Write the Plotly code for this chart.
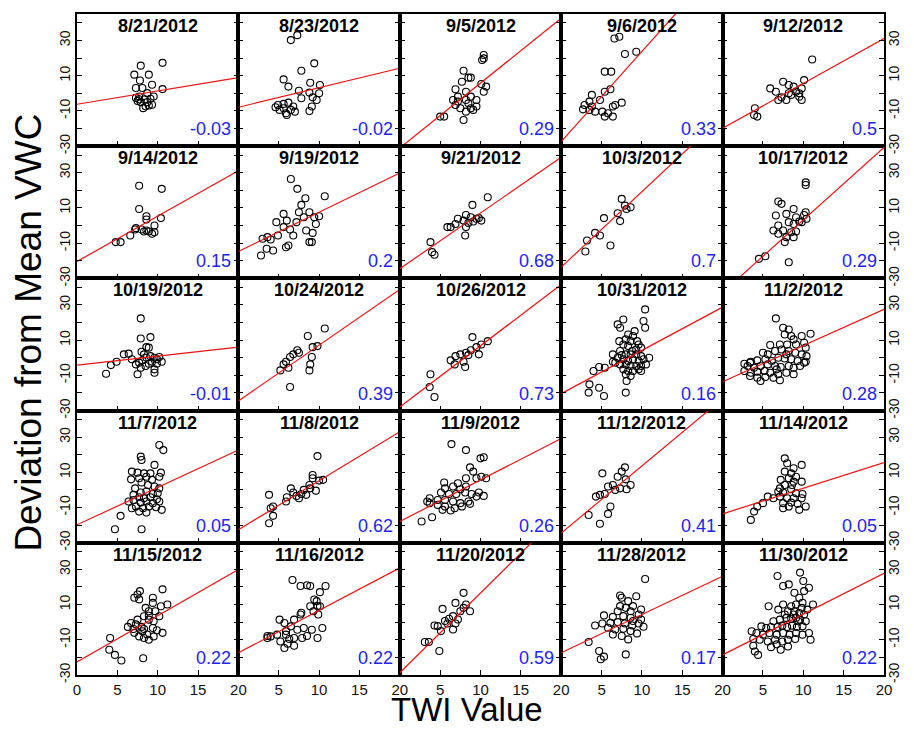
import plotly.graph_objects as go

dates = ['8/21/2012', '8/23/2012', '9/5/2012', '9/6/2012', '9/12/2012',
         '9/14/2012', '9/19/2012', '9/21/2012', '10/3/2012', '10/17/2012',
         '10/19/2012', '10/24/2012', '10/26/2012', '10/31/2012', '11/2/2012',
         '11/7/2012', '11/8/2012', '11/9/2012', '11/12/2012', '11/14/2012',
         '11/15/2012', '11/16/2012', '11/20/2012', '11/28/2012', '11/30/2012']
r_values = ['-0.03', '-0.02', '0.29', '0.33', '0.5',
            '0.15', '0.2', '0.68', '0.7', '0.29',
            '-0.01', '0.39', '0.73', '0.16', '0.28',
            '0.05', '0.62', '0.26', '0.41', '0.05',
            '0.22', '0.22', '0.59', '0.17', '0.22']
# regression line value at TWI = 0 and TWI = 20
fit_at_0 = [-6.2, -7.9, -31.0, -27.4, -19.8,
            -20.4, -14.7, -24.5, -23.6, -38.0,
            -4.2, -24.5, -27.9, -20.4, -13.6,
            -19.8, -22.6, -17.9, -24.5, -13.6,
            -22.6, -17.4, -28.7, -17.4, -18.6]
fit_at_20 = [8.9, 14.2, 42.6, 74.9, 31.1,
             31.1, 29.8, 38.7, 62.0, 44.3,
             6.0, 38.7, 41.5, 28.7, 27.4,
             22.6, 33.0, 29.2, 51.7, 15.5,
             29.8, 30.8, 61.7, 26.0, 27.7]
x_ticks = [0, 5, 10, 15, 20]
y_ticks = [-30, -20, -10, 0, 10, 20, 30, 40]
y_tick_text = ['-30', '', '-10', '', '10', '', '30', '']

pts_0821 = [(10.6,17.3),(7.9,15.7),(7.1,10.6),(8.9,10.6),(7.8,7.3),(9.3,4.9),(10.6,2.4),(7.3,3.0),(8.1,3.0),(8.7,0.1),(7.7,-1.8),(7.3,-2.6),(8.4,-3.4),(9.1,-3.1),(9.5,-1.8),(7.5,-4.3),(7.9,-5.0),(8.7,-5.0),(9.3,-6.5),(8.5,-7.3),(8.2,-8.4),(8.9,-6.9),(7.7,-3.4)]
pts_0823 = [(6.5,30.2),(7.3,33.0),(9.4,17.0),(7.8,12.8),(5.6,7.9),(6.2,3.8),(8.9,6.0),(10.1,4.7),(7.5,1.5),(8.8,0.4),(10.0,0),(9.2,-2.3),(7.8,-2.8),(4.9,-6.6),(5.6,-6.0),(6.2,-5.3),(6.5,-9.4),(7.0,-10.4),(5.9,-11.3),(5.1,-9.4),(9.1,-7.5),(8.8,-10.0),(4.6,-7.9),(6.8,-7.5),(5.6,-8.5),(6.0,-12.3),(9.7,-3.8)]
pts_0905 = [(10.4,21.7),(10.4,19.8),(10.2,18.9),(7.9,12.8),(8.8,8.9),(8.5,8.9),(7.7,6.6),(6.9,2.3),(10.1,5.3),(8.2,0.9),(10.4,0.9),(7.2,-1.9),(8.8,-1.9),(8.2,-3.8),(7.2,-4.7),(9.5,-3.8),(8.5,-5.7),(6.9,-6.6),(7.5,-8.5),(8.8,-8.5),(9.5,-7.5),(8.2,-10.4),(7.9,-15.1),(5.0,-13.2),(5.5,-13.2),(10.7,3.8),(6.6,-3.8),(9.1,-9.4)]
pts_0906 = [(6.6,31.1),(7.2,32.1),(7.9,22.3),(9.3,23.6),(5.4,12.3),(6.2,12.3),(6.1,2.3),(5.4,0.9),(3.8,-0.9),(3.5,-4.7),(2.9,-6.6),(2.7,-9.1),(3.8,-7.5),(4.2,-10.4),(5.1,-10.4),(5.8,-11.3),(6.4,-13.2),(5.4,-13.2),(6.7,-6.6),(7.5,-5.3),(4.8,-3.8),(6.4,-7.5),(3.5,-9.4)]
pts_0912 = [(11.1,19.2),(5.9,2.8),(6.6,0.9),(7.5,6.6),(8.2,4.7),(8.8,3.8),(9.8,2.8),(10.1,7.5),(9.1,0.9),(8.2,0),(9.5,-1.9),(6.9,-3.8),(7.9,-3.8),(9.8,-3.8),(8.5,-0.9),(4.0,-8.5),(4.3,-13.2),(3.9,-12.3),(7.3,-2.3),(9.5,0)]
pts_0914 = [(7.7,22.6),(10.5,20.8),(7.7,9.4),(8.6,5.3),(8.6,3.4),(10.4,4.2),(9.6,0),(7.3,-1.5),(8.0,-2.3),(8.6,-2.8),(8.9,-3.4),(9.3,-4.7),(9.6,-3.8),(8.3,-3.4),(6.6,-5.7),(4.8,-9.4),(5.4,-9.4),(7.2,-2.3)]
pts_0919 = [(6.5,26.4),(7.3,20.8),(8.3,15.5),(10.7,16.6),(7.8,11.7),(5.6,6.6),(7.5,7.5),(8.8,7.5),(10.0,5.3),(4.7,1.9),(6.0,2.8),(7.2,1.9),(5.6,-0.9),(6.4,-2.3),(8.1,4.7),(9.4,4.7),(9.6,0.9),(9.2,-4.2),(6.8,-5.7),(3.6,-6.6),(4.0,-7.9),(3.0,-7.5),(3.5,-13.2),(4.3,-14.2),(5.9,-12.3),(6.2,-11.3),(8.8,-9.4),(9.1,-9.4),(2.8,-17.0),(4.9,-5.7),(8.4,-2.8)]
pts_0921 = [(10.9,16.0),(9.0,11.7),(8.2,6.0),(7.2,3.8),(8.8,4.7),(9.5,3.8),(10.1,2.8),(7.9,2.8),(6.9,0.9),(6.3,-0.9),(5.9,-0.9),(8.5,1.5),(9.1,2.3),(8.2,-0.9),(8.1,-5.7),(3.8,-9.4),(4.0,-15.1),(4.3,-16.6),(9.8,4.2)]
pts_1003 = [(7.5,15.1),(7.9,11.3),(8.6,10.4),(7.0,7.0),(7.3,2.5),(5.3,4.2),(4.2,-4.2),(4.8,-5.7),(3.2,-8.5),(3.0,-14.7),(6.1,-11.3),(8.1,9.4)]
pts_1017 = [(10.3,24.5),(10.3,23.0),(6.9,13.6),(7.3,12.3),(8.8,9.4),(7.9,6.6),(9.1,4.7),(10.3,7.5),(10.1,6.0),(9.8,1.9),(6.9,0),(8.2,1.9),(8.8,0.9),(9.5,2.3),(7.5,-2.8),(8.5,-3.8),(6.9,-4.7),(7.9,-6.6),(8.8,-6.6),(7.7,-9.4),(6.3,-2.8),(4.5,-18.9),(5.3,-17.4),(8.2,-20.8),(10.4,3.8),(6.6,5.7),(9.1,-3.4)]
pts_1019 = [(7.9,22.3),(7.9,10.9),(9.1,11.7),(8.6,6.0),(8.9,5.7),(8.0,3.4),(8.3,1.9),(9.1,0.9),(9.6,0),(8.6,0),(10.2,0.4),(10.5,-2.3),(9.9,-3.4),(9.3,-2.3),(7.7,-2.8),(7.3,-3.8),(7.9,-5.7),(8.5,-4.7),(9.6,-6.6),(9.6,-8.5),(7.5,-9.4),(3.6,-9.1),(4.2,-4.2),(4.9,-2.3),(5.8,1.9),(6.4,2.3),(6.8,-0.9),(9.9,-0.9),(8.9,-3.4),(8.1,-1.5)]
pts_1024 = [(10.7,16.6),(8.6,12.3),(9.8,6.6),(9.2,6.0),(7.3,4.2),(6.8,1.9),(6.4,0.4),(5.9,-2.3),(5.6,-3.8),(5.2,-7.2),(6.2,-5.7),(9.1,0.4),(8.9,-3.8),(8.8,-7.2),(6.4,-16.6),(7.5,2.8)]
pts_1026 = [(10.9,9.4),(9.0,11.7),(10.1,7.5),(9.5,6.0),(9.8,1.9),(8.8,4.2),(8.2,2.8),(7.5,1.9),(6.9,0.9),(6.3,-1.5),(6.8,-3.8),(7.9,-2.3),(8.1,-5.3),(3.8,-9.4),(3.7,-16.6),(4.3,-22.3),(8.5,1.5)]
pts_1031 = [(10.4,27.4),(10.2,20.8),(10.4,17.0),(7.7,21.7),(7.0,18.9),(7.3,17.0),(8.3,13.2),(8.9,12.3),(8.0,10.4),(8.6,9.4),(9.6,7.5),(7.7,7.5),(8.3,6.6),(9.3,4.7),(9.9,5.7),(7.3,3.8),(8.0,1.9),(8.6,1.9),(6.4,1.9),(9.3,1.9),(9.9,0.9),(7.0,0),(7.7,-0.9),(8.3,-1.9),(8.9,-0.9),(9.6,-1.9),(10.2,-0.9),(6.7,-2.8),(7.3,-3.8),(8.0,-3.8),(8.6,-4.7),(9.3,-4.7),(9.9,-4.7),(10.5,-3.8),(7.7,-6.6),(8.3,-7.5),(8.9,-7.5),(9.6,-6.6),(8.0,-9.4),(8.6,-10.4),(8.1,-13.2),(4.7,-5.3),(5.4,-5.7),(4.0,-7.5),(3.5,-15.1),(4.7,-17.0),(5.3,-21.7),(3.4,-19.8),(8.0,-19.8),(9.9,-7.5),(7.2,9.4),(9.1,15.1),(6.4,-2.3),(10.9,0),(7.5,1.5),(8.8,3.8),(9.4,9.4)]
pts_1102 = [(6.6,22.3),(7.5,17.0),(8.2,16.0),(7.7,13.2),(8.5,12.3),(9.8,12.3),(10.9,13.6),(8.8,10.4),(7.1,7.5),(8.0,7.5),(9.1,7.5),(10.1,8.5),(10.3,5.7),(5.0,2.8),(5.6,1.9),(6.5,3.8),(7.3,4.7),(8.2,3.8),(9.0,2.8),(9.8,1.9),(10.4,0.9),(3.5,-2.3),(4.3,-1.5),(5.3,-0.9),(6.1,-1.9),(6.9,0),(7.7,-0.4),(8.5,-0.9),(9.3,-1.9),(10.1,-2.8),(3.1,-4.7),(3.9,-5.7),(4.7,-4.7),(5.6,-3.8),(6.5,-4.7),(7.2,-5.3),(8.2,-4.7),(8.8,-5.7),(9.6,-4.7),(2.7,-7.5),(3.5,-8.5),(4.3,-7.9),(5.2,-7.5),(5.9,-8.5),(6.9,-9.4),(7.9,-8.5),(8.8,-9.4),(3.4,-10.4),(4.3,-11.3),(5.3,-10.9),(6.3,-11.3),(7.1,-12.8),(4.7,-13.2),(3.4,-2.8),(10.3,-2.3),(7.9,1.9),(5.9,7.2),(6.7,-6.6),(2.7,-3.4)]
pts_1107 = [(10.2,25.5),(10.7,22.6),(7.9,18.9),(8.0,17.0),(9.6,14.2),(6.8,10.4),(7.5,9.8),(8.3,9.4),(9.1,9.4),(10.4,9.8),(6.7,6.0),(7.7,6.6),(8.6,7.5),(9.3,5.7),(10.2,7.5),(8.0,4.2),(8.8,2.8),(9.6,1.9),(10.2,0.9),(7.2,0.9),(7.9,-1.5),(8.6,-0.9),(9.4,-2.3),(10.0,-1.9),(7.0,-2.8),(7.7,-4.2),(8.3,-4.7),(9.1,-4.2),(9.9,-5.3),(7.0,-5.7),(7.9,-7.2),(8.6,-6.6),(9.4,-7.5),(10.2,-6.6),(7.3,-9.4),(8.2,-10.4),(8.9,-9.4),(9.8,-9.8),(10.5,-11.3),(7.7,-12.3),(8.6,-12.8),(5.4,-14.7),(4.7,-22.3),(8.0,-22.3),(6.4,-6.6),(6.8,-10.4)]
pts_1108 = [(9.8,19.2),(9.2,8.5),(9.2,6.6),(10.5,5.7),(10.0,5.3),(8.8,2.8),(8.1,0),(9.6,-0.4),(8.4,-2.8),(7.8,-2.3),(7.2,-3.4),(6.8,-1.5),(6.5,0.9),(7.5,-4.7),(5.9,-6.6),(3.8,-2.8),(4.3,-9.4),(4.0,-10.4),(4.3,-14.7),(3.8,-18.9),(6.0,-4.2),(8.9,0.9)]
pts_1109 = [(6.4,26.0),(8.2,22.6),(10.4,18.5),(10.0,17.9),(8.7,12.8),(9.5,6.6),(10.1,7.5),(9.1,10.4),(5.5,4.2),(7.2,3.8),(8.2,6.6),(5.6,0.9),(6.6,1.9),(7.5,0.4),(5.1,-1.5),(6.1,-2.3),(7.0,-2.3),(8.1,-1.5),(8.9,-2.3),(9.8,-1.5),(10.4,-3.4),(3.7,-4.7),(4.7,-5.7),(5.6,-5.7),(6.6,-6.6),(7.5,-7.5),(8.5,-6.6),(9.5,-3.8),(3.7,-7.5),(4.7,-8.5),(5.6,-9.4),(6.8,-10.4),(7.7,-9.4),(8.7,-7.9),(5.3,-11.3),(6.3,-11.7),(2.7,-17.9),(4.0,-15.5),(3.4,-6.6),(10.7,6.6),(8.2,1.9)]
pts_1112 = [(7.9,12.8),(7.5,10.4),(5.1,9.4),(7.0,7.5),(8.6,2.8),(8.0,6.0),(6.4,2.8),(5.8,1.9),(7.3,0.9),(6.7,0),(8.1,0.4),(5.4,-2.3),(4.3,-3.8),(4.8,-2.8),(6.1,-9.4),(5.8,-13.6),(3.4,-14.2),(4.8,-19.2)]
pts_1114 = [(7.7,17.9),(8.0,15.1),(8.8,12.3),(9.8,14.2),(7.7,10.4),(8.5,9.4),(9.1,7.5),(8.2,6.6),(7.2,5.7),(8.8,4.7),(7.7,2.8),(9.8,4.7),(7.1,0.9),(8.5,0.4),(7.5,-1.5),(9.1,-1.9),(9.9,-2.3),(7.1,-3.8),(8.0,-4.7),(8.8,-4.7),(9.8,-4.7),(7.5,-7.5),(8.5,-7.2),(9.3,-7.9),(10.3,-9.4),(8.2,-9.4),(7.5,-10.4),(5.6,-3.8),(6.3,-4.7),(5.0,-7.5),(4.3,-9.4),(3.9,-12.3),(3.5,-17.0),(9.5,-11.3),(6.9,-0.9),(8.6,2.8)]
pts_1115 = [(10.6,18.6),(7.8,17.6),(7.5,15.7),(7.1,13.8),(7.7,12.9),(9.4,13.8),(9.4,10.9),(11.2,10.0),(10.4,9.0),(8.5,8.1),(8.9,6.2),(9.7,6.2),(10.2,3.3),(8.3,3.3),(8.9,1.4),(9.5,0.5),(6.7,-0.5),(6.3,-2.7),(7.3,-1.3),(8.0,-2.7),(8.3,-3.9),(9.4,-3.3),(9.9,-4.6),(10.6,-6.1),(7.1,-6.1),(7.7,-8.1),(8.3,-9.0),(8.9,-10.0),(9.5,-8.1),(8.7,-7.0),(8.1,-5.2),(4.1,-9.0),(4.0,-15.7),(4.7,-18.6),(5.5,-21.8),(8.2,-20.5),(7.5,1.4),(8.9,3.6),(7.0,-3.9)]
pts_1116 = [(6.7,23.9),(7.7,20.5),(8.5,20.9),(8.9,20.5),(10.8,20.5),(10.1,17.0),(9.7,11.9),(8.9,9.0),(10.1,9.0),(9.3,6.2),(9.9,4.3),(7.7,4.3),(6.9,1.4),(5.1,1.4),(5.7,-0.5),(6.5,-2.4),(7.3,-4.3),(8.1,-3.3),(9.1,-4.3),(10.4,-3.3),(4.8,-7.1),(4.0,-8.1),(3.6,-9.0),(5.9,-7.1),(6.9,-9.0),(7.9,-9.0),(5.2,-11.0),(6.1,-12.3),(6.9,-13.4),(5.7,-14.7),(6.3,-9.6),(8.5,-7.9),(9.8,-9.0),(9.4,12.8),(9.8,9.1),(7.8,5.3),(5.9,-5.1),(3.6,-7.9)]
pts_1120 = [(7.9,16.6),(6.9,10.9),(8.2,10.0),(8.7,6.2),(7.5,6.2),(5.3,7.5),(6.6,3.4),(5.6,0.6),(4.3,-1.9),(4.7,-2.3),(5.9,-0.8),(6.9,-0.8),(7.2,1.5),(5.1,-5.1),(6.6,-4.2),(3.1,-11.3),(3.6,-11.3),(4.9,-16.4),(7.9,8.1),(6.1,1.9)]
pts_1128 = [(10.4,24.5),(9.3,14.7),(7.3,15.1),(7.5,13.8),(8.3,11.9),(8.9,9.1),(8.0,8.1),(9.9,7.2),(7.0,6.2),(8.6,6.2),(9.6,4.3),(5.3,3.8),(6.4,3.0),(7.7,3.4),(8.6,2.5),(9.9,1.5),(4.2,-1.9),(5.1,-0.8),(6.1,-0.4),(7.0,0),(7.9,-0.8),(8.8,-1.9),(9.6,-0.8),(5.8,-3.2),(6.7,-4.2),(7.7,-3.8),(8.6,-5.1),(9.4,-6.4),(6.4,-7.0),(7.5,-7.9),(8.3,-9.8),(3.4,-11.3),(4.7,-16.4),(5.3,-19.6),(4.9,-21.1),(8.0,-18.3),(10.2,-2.6),(7.3,9.1),(8.9,0.6)]
pts_1130 = [(6.8,26.2),(9.6,28.1),(7.5,20.5),(8.2,21.4),(10.0,23.3),(10.7,19.5),(10.1,17.6),(8.9,16.7),(9.5,13.8),(5.7,9.0),(7.5,10.0),(8.5,9.0),(9.1,10.0),(9.9,11.0),(11.2,10.0),(8.1,6.2),(8.9,6.2),(9.5,5.2),(10.1,4.3),(6.3,0.5),(7.1,1.4),(7.9,2.4),(8.5,1.9),(9.1,2.4),(9.6,1.4),(10.3,0.5),(4.8,-2.4),(5.4,-3.3),(6.0,-2.8),(6.8,-2.8),(7.4,-2.0),(8.0,-2.8),(8.6,-2.0),(9.2,-2.8),(9.9,-2.4),(3.6,-5.2),(4.2,-6.2),(5.0,-7.1),(5.8,-6.2),(6.7,-7.1),(7.5,-6.2),(8.3,-7.1),(9.1,-6.2),(9.9,-7.1),(10.7,-6.2),(3.8,-9.6),(4.6,-10.0),(5.6,-11.0),(6.5,-10.0),(7.4,-11.0),(8.1,-10.0),(9.0,-9.6),(10.9,-10.0),(3.8,-13.4),(6.0,-14.2),(7.2,-15.7),(8.1,-13.8),(4.4,-18.6),(4.0,-16.7),(6.7,-12.6),(9.4,0.5),(8.8,4.3),(7.7,4.3),(6.9,7.1),(10.5,7.1),(9.8,8.1)]

panels = [pts_0821, pts_0823, pts_0905, pts_0906, pts_0912,
          pts_0914, pts_0919, pts_0921, pts_1003, pts_1017,
          pts_1019, pts_1024, pts_1026, pts_1031, pts_1102,
          pts_1107, pts_1108, pts_1109, pts_1112, pts_1114,
          pts_1115, pts_1116, pts_1120, pts_1128, pts_1130]

W, H = 914, 729
L, R, T, B = 77, 20, 14, 54
FONT = 'Liberation Sans'

fig = go.Figure()
layout = {}
annotations = []
for k in range(25):
    r, c = divmod(k, 5)
    n = k + 1
    xa = 'x' if n == 1 else f'x{n}'
    ya = 'y' if n == 1 else f'y{n}'
    xs = [p[0] for p in panels[k]]
    ys = [p[1] for p in panels[k]]
    fig.add_trace(go.Scatter(x=xs, y=ys, mode='markers', xaxis=xa, yaxis=ya,
                             marker=dict(symbol='circle-open', size=7, color='black',
                                         line=dict(width=1.1, color='black')),
                             showlegend=False, cliponaxis=True, hoverinfo='skip'))
    fig.add_trace(go.Scatter(x=[x_ticks[0], x_ticks[-1]], y=[fit_at_0[k], fit_at_20[k]],
                             mode='lines', xaxis=xa, yaxis=ya,
                             line=dict(color='#ee1111', width=1.2),
                             showlegend=False, hoverinfo='skip'))
    xkey = 'xaxis' if n == 1 else f'xaxis{n}'
    ykey = 'yaxis' if n == 1 else f'yaxis{n}'
    layout[xkey] = dict(domain=[c / 5, (c + 1) / 5], anchor=ya, range=[0, 20],
                        tickvals=x_ticks if c == 0 else x_ticks[1:],
                        ticktext=[str(v) for v in (x_ticks if c == 0 else x_ticks[1:])],
                        showticklabels=(r == 4), ticks='inside', ticklen=5,
                        tickcolor='black', showline=True, mirror=True,
                        linecolor='black', linewidth=1.5, showgrid=False,
                        zeroline=False, fixedrange=True,
                        tickfont=dict(family=FONT, size=15, color='#111'))
    layout[ykey] = dict(domain=[1 - (r + 1) / 5, 1 - r / 5], anchor=xa, range=[-30, 45],
                        tickvals=y_ticks, ticktext=y_tick_text,
                        showticklabels=(c == 0), ticks='inside', ticklen=5,
                        tickcolor='black', showline=True, mirror='ticks',
                        linecolor='black', linewidth=1.5, showgrid=False,
                        zeroline=False, tickangle=-90, fixedrange=True,
                        tickfont=dict(family=FONT, size=14, color='#111'))
    annotations.append(dict(text=f'<b>{dates[k]}</b>', xref=f'{xa} domain', yref=f'{ya} domain',
                            x=0.5, y=1, xanchor='center', yanchor='middle', yshift=-12,
                            showarrow=False, font=dict(family=FONT, size=18, color='black')))
    annotations.append(dict(text=r_values[k], xref=f'{xa} domain', yref=f'{ya} domain',
                            x=1, y=0, xanchor='right', yanchor='middle', xshift=-5, yshift=17,
                            showarrow=False, font=dict(family=FONT, size=18, color='#2323f0')))

# right-hand tick labels for the last column
for r in range(5):
    k = r * 5 + 4
    n = k + 1
    extra = 26 + r
    fig.add_trace(go.Scatter(x=[None], y=[None], xaxis=f'x{n}', yaxis=f'y{extra}',
                             showlegend=False, hoverinfo='skip'))
    layout[f'yaxis{extra}'] = dict(overlaying=f'y{n}', anchor=f'x{n}', side='right',
                                   range=[-30, 45], tickvals=y_ticks, ticktext=y_tick_text,
                                   showticklabels=True, ticks='', showline=False,
                                   showgrid=False, zeroline=False, tickangle=-90,
                                   fixedrange=True,
                                   tickfont=dict(family=FONT, size=14, color='#111'))

def px_to_paper_x(px):
    return (px - L) / (W - L - R)

def px_to_paper_y(py):
    return (H - B - py) / (H - T - B)

annotations.append(dict(text='TWI Value', xref='paper', yref='paper',
                        x=px_to_paper_x(472), y=px_to_paper_y(709),
                        xanchor='center', yanchor='middle', showarrow=False,
                        font=dict(family=FONT, size=33, color='black')))
annotations.append(dict(text='Deviation from Mean VWC', xref='paper', yref='paper',
                        x=px_to_paper_x(27), y=px_to_paper_y(333), textangle=-90,
                        xanchor='center', yanchor='middle', showarrow=False,
                        font=dict(family=FONT, size=37, color='black')))

fig.update_layout(width=W, height=H, margin=dict(l=L, r=R, t=T, b=B),
                  paper_bgcolor='white', plot_bgcolor='white',
                  annotations=annotations, **layout)
fig.write_html('out.html')
